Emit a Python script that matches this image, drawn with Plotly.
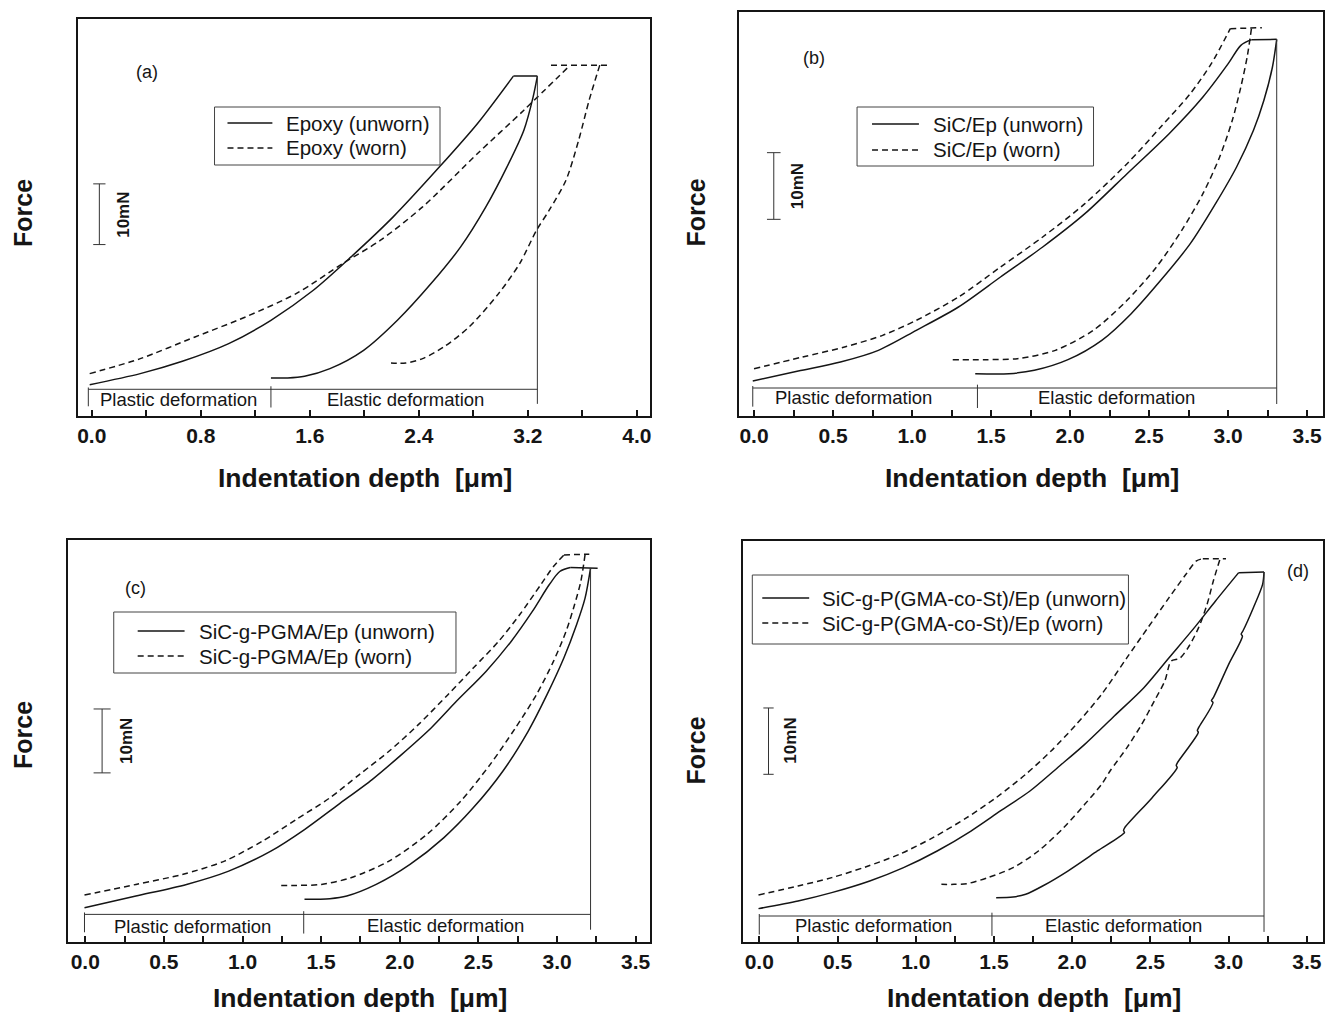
import plotly.graph_objects as go

W, H = 1327, 1016
FONT = "Liberation Sans, Arial, Helvetica, sans-serif"
INK = "#151515"

# ---------------- data (depth in um, force in mN above an arbitrary baseline) ----------------
# Panel (a) Epoxy
a_unworn_load_x = [-0.015, 0.356, 0.665, 1.005, 1.315, 1.626, 1.903, 2.212, 2.552, 2.831, 3.094]
a_unworn_load_y = [5.16, 6.98, 9.01, 11.92, 15.77, 20.71, 26.21, 32.80, 41.04, 48.19, 55.99]
a_unworn_hold_x = [3.094, 3.27]
a_unworn_hold_y = [55.99, 55.99]
a_unworn_unload_x = [3.27, 3.239, 3.171, 3.047, 2.892, 2.707, 2.490, 2.243, 1.995, 1.748, 1.562, 1.438, 1.315]
a_unworn_unload_y = [55.99, 52.58, 47.09, 41.04, 34.45, 27.86, 21.81, 15.77, 10.82, 7.80, 6.54, 6.26, 6.26]
a_worn_load_x = [-0.015, 0.356, 0.758, 1.129, 1.500, 1.841, 2.119, 2.428, 2.831, 3.171, 3.511]
a_worn_load_y = [6.98, 9.45, 13.02, 16.32, 20.16, 25.11, 28.96, 34.45, 43.24, 50.38, 57.80]
a_worn_hold_x = [3.37, 3.805]
a_worn_hold_y = [57.80, 57.80]
a_worn_unload_x = [3.728, 3.650, 3.573, 3.480, 3.357, 3.264, 3.140, 2.985, 2.769, 2.583, 2.428, 2.305, 2.196]
a_worn_unload_y = [57.80, 52.03, 45.44, 38.85, 33.90, 30.60, 25.11, 20.16, 14.67, 11.37, 9.45, 8.74, 8.74]

# Panel (b) SiC/Ep
b_unworn_load_x = [-0.008, 0.280, 0.547, 0.787, 1.027, 1.294, 1.560, 1.827, 2.094, 2.361, 2.627, 2.841,
                   3.001, 3.081, 3.148]
b_unworn_load_y = [5.25, 6.75, 8.10, 9.85, 12.85, 16.35, 20.85, 25.35, 30.35, 36.35, 42.35, 47.85,
                   52.85, 55.60, 56.45]
b_unworn_hold_x = [3.148, 3.308]
b_unworn_hold_y = [56.45, 56.50]
b_unworn_unload_x = [3.308, 3.281, 3.227, 3.161, 3.054, 2.921, 2.761, 2.574, 2.387, 2.201, 1.987, 1.774,
                     1.614, 1.400]
b_unworn_unload_y = [56.50, 52.35, 47.35, 42.85, 37.35, 31.85, 25.85, 20.35, 15.35, 11.35, 8.45, 6.85,
                     6.35, 6.35]
b_worn_load_x = [0.000, 0.307, 0.573, 0.814, 1.027, 1.294, 1.560, 1.827, 2.094, 2.361, 2.574, 2.761,
                 2.894, 3.014]
b_worn_load_y = [7.10, 8.85, 10.35, 12.10, 14.35, 17.85, 22.35, 26.85, 31.85, 37.85, 43.35, 48.35,
                 52.85, 58.10]
b_worn_hold_x = [3.014, 3.214]
b_worn_hold_y = [58.10, 58.25]
b_worn_unload_x = [3.148, 3.121, 3.081, 3.027, 2.947, 2.841, 2.707, 2.547, 2.361, 2.147, 1.907, 1.667,
                   1.454, 1.254]
b_worn_unload_y = [58.10, 53.85, 49.35, 44.35, 38.85, 33.35, 27.85, 22.35, 17.35, 12.85, 9.85, 8.60,
                   8.45, 8.45]

# Panel (c) SiC-g-PGMA/Ep
c_unworn_load_x = [-0.005, 0.322, 0.644, 0.912, 1.180, 1.394, 1.609, 1.824, 2.011, 2.199, 2.360, 2.548,
                   2.708, 2.843, 2.950, 3.017, 3.084]
c_unworn_load_y = [5.36, 7.19, 9.01, 11.09, 14.22, 17.60, 21.51, 25.42, 29.32, 33.49, 37.66, 42.34,
                   47.03, 51.72, 55.89, 57.97, 58.59]
c_unworn_hold_x = [3.084, 3.258]
c_unworn_hold_y = [58.59, 58.49]
c_unworn_unload_x = [3.213, 3.178, 3.124, 3.043, 2.936, 2.816, 2.655, 2.467, 2.279, 2.065, 1.850, 1.663,
                     1.555, 1.394]
c_unworn_unload_y = [58.50, 53.80, 49.64, 44.43, 38.70, 32.97, 26.72, 20.99, 16.30, 12.14, 9.01, 7.19,
                     6.77, 6.67]
c_worn_load_x = [-0.005, 0.322, 0.617, 0.885, 1.126, 1.341, 1.555, 1.743, 1.931, 2.118, 2.306, 2.467,
                 2.628, 2.762, 2.896, 2.977, 3.044]
c_worn_load_y = [7.34, 9.01, 10.57, 12.66, 15.78, 19.17, 22.55, 26.20, 29.84, 34.01, 38.70, 42.86,
                 47.03, 51.20, 55.89, 58.75, 60.57]
c_worn_hold_x = [3.044, 3.205]
c_worn_hold_y = [60.57, 60.68]
c_worn_unload_x = [3.178, 3.151, 3.111, 3.057, 2.977, 2.869, 2.735, 2.574, 2.387, 2.172, 1.931, 1.689,
                   1.502, 1.341, 1.220]
c_worn_unload_y = [60.60, 56.41, 52.76, 48.59, 43.91, 38.70, 33.49, 27.76, 22.03, 16.82, 12.66, 10.05,
                   9.01, 8.85, 8.85]

# Panel (d) SiC-g-P(GMA-co-St)/Ep
d_unworn_load_x = [-0.005, 0.248, 0.463, 0.706, 0.922, 1.137, 1.353, 1.541, 1.730, 1.919, 2.080, 2.269,
                   2.458, 2.619, 2.781, 2.916, 3.064]
d_unworn_load_y = [5.03, 6.18, 7.44, 9.20, 11.21, 13.72, 16.73, 19.75, 22.76, 26.53, 29.80, 34.07,
                   38.34, 42.86, 47.39, 51.41, 55.68]
d_unworn_hold_x = [3.064, 3.226]
d_unworn_hold_y = [55.68, 55.78]
d_unworn_unload_x = [3.226, 3.217, 3.158, 3.091, 3.080, 3.088, 3.000, 2.902, 2.890, 2.900, 2.808, 2.800,
                     2.806, 2.673, 2.665, 2.671, 2.511, 2.336, 2.328, 2.334, 2.161, 1.972, 1.811, 1.703,
                     1.622, 1.514]
d_unworn_unload_y = [55.78, 53.92, 50.40, 46.88, 46.40, 46.10, 41.86, 36.83, 36.40, 36.10, 32.31, 31.90,
                     31.60, 27.04, 26.60, 26.30, 21.76, 17.24, 16.80, 16.50, 13.72, 10.70, 8.44, 7.19,
                     6.78, 6.68]
d_worn_load_x = [-0.005, 0.248, 0.463, 0.679, 0.895, 1.110, 1.326, 1.514, 1.703, 1.865, 2.026, 2.188,
                 2.350, 2.484, 2.619, 2.727, 2.794, 2.835]
d_worn_load_y = [7.09, 8.44, 9.70, 11.31, 13.22, 15.73, 18.74, 21.76, 25.28, 28.79, 32.81, 37.34,
                 42.86, 47.39, 51.91, 55.43, 57.44, 57.79]
d_worn_hold_x = [2.835, 2.983]
d_worn_hold_y = [57.79, 57.79]
d_worn_unload_x = [2.943, 2.902, 2.862, 2.808, 2.741, 2.687, 2.633, 2.592, 2.525, 2.444, 2.350, 2.242,
                   2.188, 2.080, 1.946, 1.784, 1.622, 1.461, 1.326, 1.245, 1.164]
d_worn_unload_y = [57.60, 54.42, 50.90, 47.39, 44.37, 42.76, 42.36, 39.35, 36.33, 32.81, 29.30, 25.78,
                   23.77, 20.75, 17.24, 13.72, 11.21, 9.70, 8.79, 8.69, 8.69]

# deformation brackets: [start depth, end of plastic part, max depth]
a_bracket = [-0.025, 1.315, 3.27]
b_bracket = [-0.008, 1.414, 3.308]
c_bracket = [-0.005, 1.389, 3.213]
d_bracket = [0.000, 1.487, 3.226]

# tick labels
ticks_a = [0.0, 0.8, 1.6, 2.4, 3.2, 4.0]
ticktext_a = ["0.0", "0.8", "1.6", "2.4", "3.2", "4.0"]
ticks_bcd = [0.0, 0.5, 1.0, 1.5, 2.0, 2.5, 3.0, 3.5]
ticktext_bcd = ["0.0", "0.5", "1.0", "1.5", "2.0", "2.5", "3.0", "3.5"]

labels_unworn = ["Epoxy (unworn)", "SiC/Ep (unworn)", "SiC-g-PGMA/Ep (unworn)",
                 "SiC-g-P(GMA-co-St)/Ep (unworn)"]
labels_worn = ["Epoxy (worn)", "SiC/Ep (worn)", "SiC-g-PGMA/Ep (worn)",
               "SiC-g-P(GMA-co-St)/Ep (worn)"]
panel_tags = ["(a)", "(b)", "(c)", "(d)"]
scale_bar_mN = 10

curves = {
    "a": [(a_unworn_load_x, a_unworn_load_y, a_unworn_hold_x, a_unworn_hold_y,
           a_unworn_unload_x, a_unworn_unload_y),
          (a_worn_load_x, a_worn_load_y, a_worn_hold_x, a_worn_hold_y,
           a_worn_unload_x, a_worn_unload_y)],
    "b": [(b_unworn_load_x, b_unworn_load_y, b_unworn_hold_x, b_unworn_hold_y,
           b_unworn_unload_x, b_unworn_unload_y),
          (b_worn_load_x, b_worn_load_y, b_worn_hold_x, b_worn_hold_y,
           b_worn_unload_x, b_worn_unload_y)],
    "c": [(c_unworn_load_x, c_unworn_load_y, c_unworn_hold_x, c_unworn_hold_y,
           c_unworn_unload_x, c_unworn_unload_y),
          (c_worn_load_x, c_worn_load_y, c_worn_hold_x, c_worn_hold_y,
           c_worn_unload_x, c_worn_unload_y)],
    "d": [(d_unworn_load_x, d_unworn_load_y, d_unworn_hold_x, d_unworn_hold_y,
           d_unworn_unload_x, d_unworn_unload_y),
          (d_worn_load_x, d_worn_load_y, d_worn_hold_x, d_worn_hold_y,
           d_worn_unload_x, d_worn_unload_y)],
}

# ---------------- layout geometry (pixels) ----------------
panels = [
    dict(key="a", box=(77, 650, 19, 416), xr=[-0.102, 4.093], yr=[0, 65.4], br=a_bracket,
         peak=55.99, by=4.4, ticks=ticks_a, tt=ticktext_a, minor_step=0.4,
         bar_x=0.056, bar_y0=28.24, cap=0.045, bar_lbl=(0.232, 33.2),
         tag=(0.402, 56.7), plas=(0.64, 2.75), elas=(2.30, 2.75),
         leg=(214, 440, 107, 165), legline=(227, 272, 284), rows=(123, 148),
         title=(365, 478), force=(22, 213)),
    dict(key="b", box=(740, 1325, 12, 416), xr=[-0.093, 3.601], yr=[0, 60.6], br=b_bracket,
         peak=56.5, by=4.2, ticks=ticks_bcd, tt=ticktext_bcd, minor_step=0.25,
         bar_x=0.125, bar_y0=29.5, cap=0.043, bar_lbl=(0.28, 34.5),
         tag=(0.381, 53.75), plas=(0.627, 2.75), elas=(2.294, 2.75),
         leg=(858, 1095, 107, 166), legline=(873, 920, 932), rows=(124, 150),
         title=(1033, 478), force=(697, 212)),
    dict(key="c", box=(67.6, 650, 540, 942), xr=[-0.107, 3.588], yr=[0, 62.9], br=c_bracket,
         peak=58.5, by=4.32, ticks=ticks_bcd, tt=ticktext_bcd, minor_step=0.25,
         bar_x=0.107, bar_y0=26.46, cap=0.054, bar_lbl=(0.263, 31.4),
         tag=(0.322, 55.4), plas=(0.684, 2.5), elas=(2.293, 2.6),
         leg=(113, 456, 612, 673), legline=(137, 184, 196), rows=(631, 656),
         title=(360, 998), force=(22, 735)),
    dict(key="d", box=(744, 1325, 541, 942), xr=[-0.102, 3.603], yr=[0, 60.45], br=d_bracket,
         peak=55.78, by=3.92, ticks=ticks_bcd, tt=ticktext_bcd, minor_step=0.25,
         bar_x=0.059, bar_y0=25.28, cap=0.033, bar_lbl=(0.194, 30.3),
         tag=(3.441, 56.0), plas=(0.728, 2.56), elas=(2.331, 2.56),
         leg=(753, 1130, 575, 644), legline=(763, 810, 821), rows=(598, 623),
         title=(1035, 998), force=(697, 750)),
]

DASH = "6px,4px"
fig = go.Figure()
annotations = []
shapes = []
layout = dict(width=W, height=H, margin=dict(l=0, r=0, t=0, b=0),
              paper_bgcolor="white", plot_bgcolor="white", showlegend=False,
              font=dict(family=FONT, color=INK))


def px_x(v):
    return v / W


def px_y(v):
    return 1 - v / H


for i, p in enumerate(panels):
    n = "" if i == 0 else str(i + 1)
    xa, ya = "x" + n, "y" + n
    # loading / hold / unloading curves
    for k, (lx_, ly_, hx, hy, ux, uy) in enumerate(curves[p["key"]]):
        name = labels_unworn[i] if k == 0 else labels_worn[i]
        dash = "solid" if k == 0 else DASH
        for sx_, sy_, shape in ((lx_, ly_, "spline"), (hx, hy, "linear"), (ux, uy, "spline")):
            fig.add_trace(go.Scatter(x=sx_, y=sy_, mode="lines", name=name,
                                     xaxis=xa, yaxis=ya,
                                     line=dict(color=INK, width=1.5, dash=dash, shape=shape,
                                               smoothing=0.8 if shape == "spline" else None)))
    # deformation bracket
    x0, x1, x2 = p["br"]
    by = p["by"]
    bx = [x0, x2, None, x0, x0, None, x1, x1, None, x2, x2]
    byy = [by, by, None, by + 0.3, by - 2.8, None, by + 0.5, by - 3.0, None, p["peak"], by - 2.4]
    fig.add_trace(go.Scatter(x=bx, y=byy, mode="lines", showlegend=False, hoverinfo="skip",
                             xaxis=xa, yaxis=ya, line=dict(color="#333333", width=1)))
    # 10 mN scale bar
    sx, sy0, c = p["bar_x"], p["bar_y0"], p["cap"]
    sy1 = sy0 + scale_bar_mN
    fig.add_trace(go.Scatter(x=[sx, sx, None, sx - c, sx + c, None, sx - c, sx + c],
                             y=[sy0, sy1, None, sy0, sy0, None, sy1, sy1],
                             mode="lines", showlegend=False, hoverinfo="skip",
                             xaxis=xa, yaxis=ya, line=dict(color="#333333", width=1)))
    L, R, T, B = p["box"]
    layout["xaxis" + n] = dict(
        domain=[L / W, R / W], range=p["xr"], anchor=ya, showline=True, mirror=True,
        linecolor=INK, linewidth=2, showgrid=False, zeroline=False,
        tickmode="array", tickvals=p["ticks"], ticktext=p["tt"], ticks="inside",
        ticklen=6, tickwidth=2, tickcolor=INK,
        tickfont=dict(family=FONT, size=21, color=INK, weight="bold"),
        minor=dict(tickvals=[t + p["minor_step"] for t in p["ticks"][:-1]],
                   ticks="inside", ticklen=6, tickwidth=2, tickcolor=INK),
        fixedrange=True)
    layout["yaxis" + n] = dict(
        domain=[1 - B / H, 1 - T / H], range=p["yr"], anchor=xa, showline=True, mirror=True,
        linecolor=INK, linewidth=2, showgrid=False, zeroline=False, showticklabels=False,
        ticks="", fixedrange=True)
    # key box
    lL, lR, lT, lB = p["leg"]
    shapes.append(dict(type="rect", xref="paper", yref="paper", x0=px_x(lL), x1=px_x(lR),
                       y0=px_y(lB), y1=px_y(lT), line=dict(color="#444444", width=1),
                       fillcolor="white", layer="above"))
    s0, s1, tx = p["legline"]
    for r, (row, lab) in enumerate(zip(p["rows"], [labels_unworn[i], labels_worn[i]])):
        shapes.append(dict(type="line", xref="paper", yref="paper", x0=px_x(s0), x1=px_x(s1),
                           y0=px_y(row), y1=px_y(row),
                           line=dict(color=INK, width=1.5, dash=("solid" if r == 0 else DASH)),
                           layer="above"))
        annotations.append(dict(x=px_x(tx), y=px_y(row), xref="paper", yref="paper", text=lab,
                                showarrow=False, xanchor="left", yanchor="middle",
                                font=dict(family=FONT, size=20.5, color=INK)))
    annotations += [
        dict(x=p["bar_lbl"][0], y=p["bar_lbl"][1], xref=xa, yref=ya, text="10mN", showarrow=False,
             textangle=-90, xanchor="center", yanchor="middle",
             font=dict(family=FONT, size=17, color=INK, weight="bold")),
        dict(x=p["tag"][0], y=p["tag"][1], xref=xa, yref=ya, text=panel_tags[i], showarrow=False,
             xanchor="center", yanchor="middle", font=dict(family=FONT, size=18, color=INK)),
        dict(x=p["plas"][0], y=p["plas"][1], xref=xa, yref=ya, text="Plastic deformation",
             xanchor="center", yanchor="middle",
             showarrow=False, font=dict(family=FONT, size=18.5, color=INK)),
        dict(x=p["elas"][0], y=p["elas"][1], xref=xa, yref=ya, text="Elastic deformation",
             xanchor="center", yanchor="middle",
             showarrow=False, font=dict(family=FONT, size=18.5, color=INK)),
        dict(x=px_x(p["title"][0]), y=px_y(p["title"][1]), xref="paper", yref="paper",
             text="Indentation depth  [\u03bcm]", showarrow=False,
             xanchor="center", yanchor="middle",
             font=dict(family=FONT, size=26.5, color=INK, weight="bold")),
        dict(x=px_x(p["force"][0]), y=px_y(p["force"][1]), xref="paper", yref="paper",
             text="Force", showarrow=False, textangle=-90, xanchor="center", yanchor="middle",
             font=dict(family=FONT, size=25, color=INK, weight="bold")),
    ]

layout["annotations"] = annotations
layout["shapes"] = shapes
fig.update_layout(**layout)
fig.write_html("out.html")
